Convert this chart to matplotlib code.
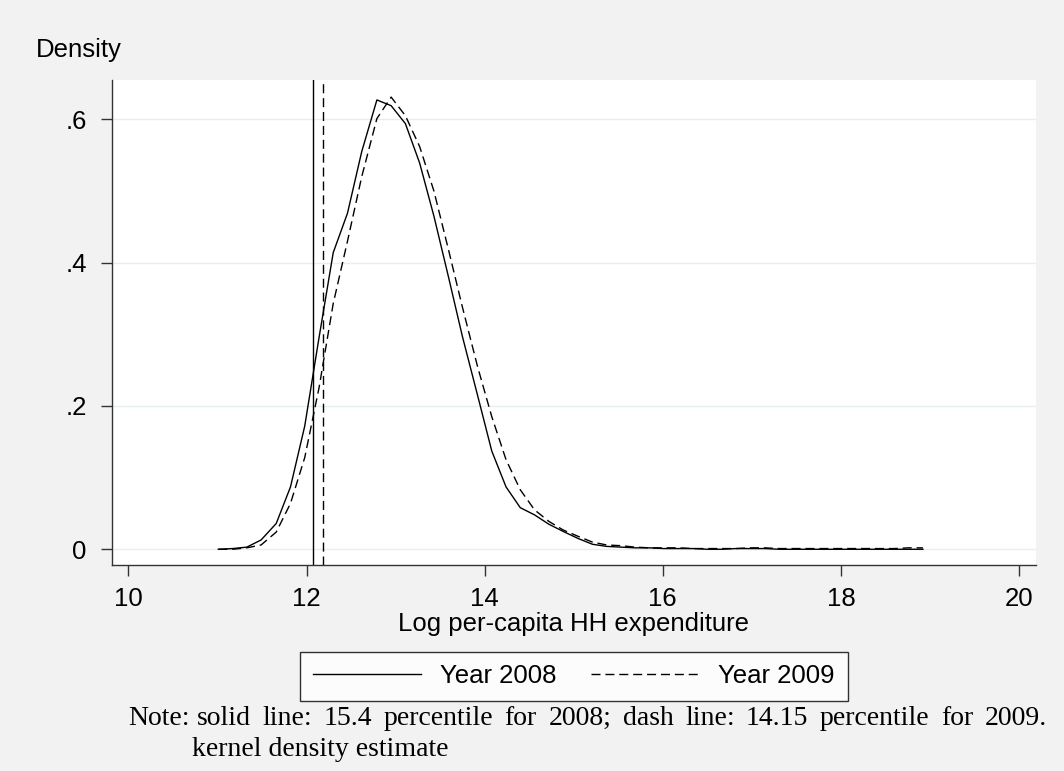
import matplotlib
matplotlib.use("Agg")
import matplotlib.pyplot as plt
from matplotlib.lines import Line2D

# kernel density estimates
log_exp = [11.01, 11.17, 11.33, 11.49, 11.66, 11.82, 11.98, 12.14, 12.30, 12.46,
           12.62, 12.79, 12.95, 13.11, 13.27, 13.43, 13.59, 13.75, 13.92, 14.08,
           14.24, 14.40, 14.56, 14.72, 14.88, 15.05, 15.21, 15.37, 15.53, 15.69,
           15.85, 16.01, 16.18, 16.34, 16.50, 16.66, 16.82, 16.98, 17.14, 17.31,
           17.47, 17.63, 17.79, 17.95, 18.11, 18.27, 18.44, 18.60, 18.76, 18.92]
dens_2008 = [0.000, 0.001, 0.003, 0.013, 0.036, 0.087, 0.172, 0.295, 0.414, 0.469,
             0.555, 0.627, 0.619, 0.594, 0.539, 0.465, 0.382, 0.297, 0.215, 0.137,
             0.087, 0.058, 0.048, 0.035, 0.025, 0.015, 0.007, 0.004, 0.003, 0.002,
             0.002, 0.001, 0.001, 0.001, 0.000, 0.000, 0.001, 0.001, 0.001, 0.000,
             0.000, 0.000, 0.000, 0.000, 0.000, 0.000, 0.000, 0.000, 0.000, 0.000]
dens_2009 = [0.000, 0.000, 0.002, 0.006, 0.024, 0.064, 0.128, 0.225, 0.343, 0.430,
             0.520, 0.601, 0.631, 0.605, 0.562, 0.500, 0.420, 0.338, 0.255, 0.185,
             0.125, 0.083, 0.055, 0.039, 0.027, 0.018, 0.010, 0.006, 0.005, 0.003,
             0.002, 0.002, 0.002, 0.001, 0.001, 0.001, 0.001, 0.002, 0.002, 0.001,
             0.001, 0.001, 0.001, 0.001, 0.001, 0.001, 0.001, 0.001, 0.002, 0.002]

# poverty line cut-offs (percentiles)
cut_2008 = 12.072
cut_2009 = 12.18

xticks = [10, 12, 14, 16, 18, 20]
yticks = [0, 0.2, 0.4, 0.6]
ytick_labels = ["0", ".2", ".4", ".6"]

note_words = "solid line: 15.4 percentile for 2008; dash line: 14.15 percentile for 2009.".split()

bg = "#f2f2f2"
dash = (0, (6.5, 3.5))
fs = 18.5
plt.rcParams["font.family"] = ["Liberation Sans", "DejaVu Sans"]

fig = plt.figure(figsize=(10.64, 7.71), dpi=100, facecolor=bg)
ax = fig.add_axes([0.105, 0.2676, 0.8687, 0.6286])
ax.set_facecolor("white")

ax.plot(log_exp, dens_2008, color="black", lw=1.0)
ax.plot(log_exp, dens_2009, color="black", lw=1.0, linestyle=dash)
ax.axvline(cut_2008, color="black", lw=1.0)
ax.axvline(cut_2009, color="black", lw=1.0, linestyle=dash)

ax.set_xlim(9.813, 20.19)
ax.set_ylim(-0.0215, 0.6548)
ax.set_xticks(xticks)
ax.set_yticks(yticks)
ax.set_yticklabels(ytick_labels)
ax.tick_params(labelsize=fs, length=8, width=1.0, color="#333333")
ax.tick_params(axis="x", pad=8)
ax.tick_params(axis="y", pad=10)
ax.yaxis.grid(True, color="#e6eeef", lw=1.0)
ax.set_axisbelow(True)
for s in ["top", "right"]:
    ax.spines[s].set_visible(False)
for s in ["left", "bottom"]:
    ax.spines[s].set_color("#333333")
    ax.spines[s].set_linewidth(1.0)

ax.set_xlabel("Log per-capita HH expenditure", fontsize=fs, labelpad=1)
fig.text(36 / 1064, 1 - 57 / 771, "Density", fontsize=fs, ha="left", va="baseline")

handles = [Line2D([], [], color="black", lw=1.0),
           Line2D([], [], color="black", lw=1.0, linestyle=dash)]
leg = fig.legend(handles, ["Year 2008", "Year 2009"], loc="center",
                 bbox_to_anchor=(0.5394, 0.1227), ncol=2, fontsize=fs,
                 frameon=True, fancybox=False, edgecolor="black",
                 handlelength=4.2, handletextpad=0.75, columnspacing=1.35,
                 borderpad=0.5, borderaxespad=0)
leg.get_frame().set_linewidth(1.0)

# justified note, Stata style
serif = ["Liberation Serif", "DejaVu Serif"]
nfs = 20
fig.text(128 / 1064, 1 - 725 / 771, "Note:", fontsize=nfs, family=serif, va="baseline")
renderer = fig.canvas.get_renderer()
x0, x1 = 197 / 1064, 1047 / 1064
texts = [fig.text(0, 1 - 725 / 771, w, fontsize=nfs, family=serif, va="baseline")
         for w in note_words]
widths = [t.get_window_extent(renderer).width / 1064 for t in texts]
gap = (x1 - x0 - sum(widths)) / (len(texts) - 1)
pos = x0
for t, w in zip(texts, widths):
    t.set_x(pos)
    pos += w + gap
fig.text(192 / 1064, 1 - 756 / 771, "kernel density estimate", fontsize=nfs,
         family=serif, va="baseline")

fig.savefig("out.png", dpi=100, facecolor=bg)
